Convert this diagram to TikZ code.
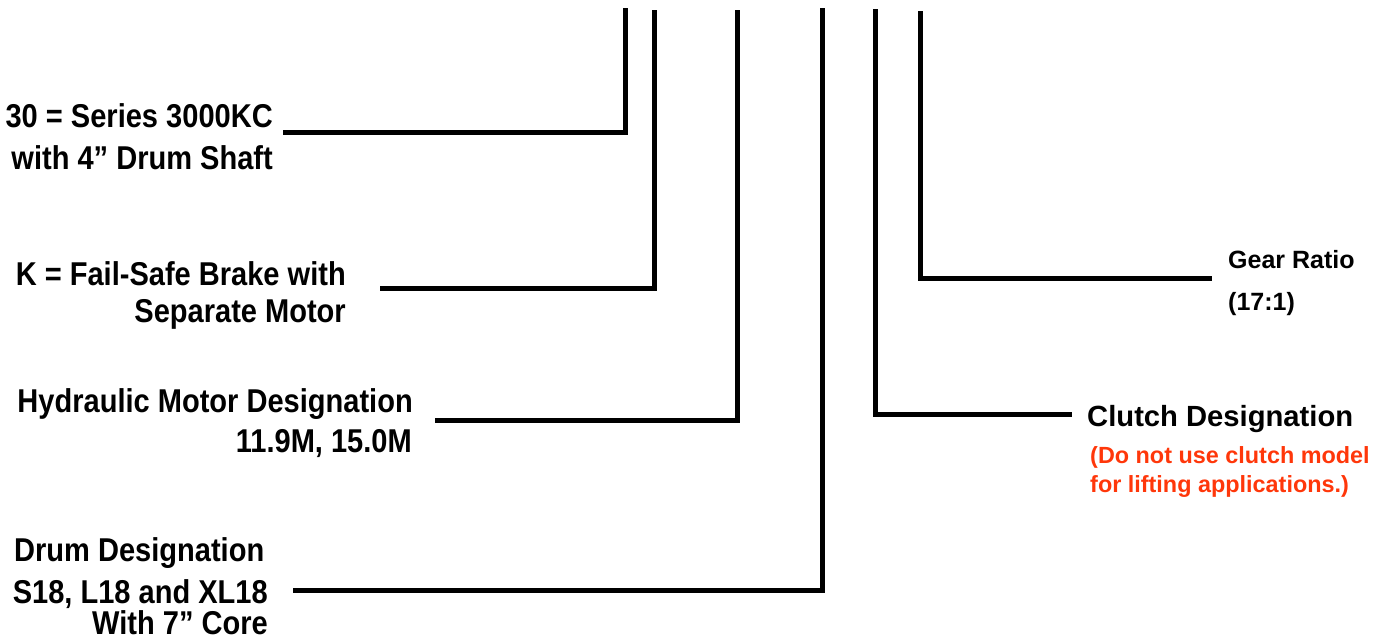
\documentclass[tikz,border=0pt]{standalone}
\usepackage{fontspec}
\setmainfont{Liberation Sans}
\newfontfamily\narrowsans[FakeStretch=0.88]{Liberation Sans}
\definecolor{warnred}{RGB}{255,55,10}
\begin{document}
\begin{tikzpicture}[x=1pt,y=-1pt,
  lead/.style={line width=5pt,line join=miter,line cap=butt},
  ltxt/.style={font=\narrowsans\fontsize{33}{35}\selectfont\bfseries,inner sep=0pt},
  gtxt/.style={font=\fontsize{25}{27}\selectfont\bfseries,inner sep=0pt},
  ctxt/.style={font=\fontsize{29.2}{31}\selectfont\bfseries,inner sep=0pt},
  rtxt/.style={font=\fontsize{23.4}{25}\selectfont\bfseries,text=warnred,inner sep=0pt}]
\useasboundingbox (0,0) rectangle (1378,641);
% labels
\node[ltxt,anchor=base east] (l1a) at (273,127) {30 = Series 3000KC};
\node[ltxt,anchor=base east] (l1b) at (273,169) {with 4” Drum Shaft};
\node[ltxt,anchor=base east] (l2a) at (346,285) {K = Fail-Safe Brake with};
\node[ltxt,anchor=base east] (l2b) at (346,322) {Separate Motor};
\node[ltxt,anchor=base east] (l3a) at (413,412) {Hydraulic Motor Designation};
\node[ltxt,anchor=base east] (l3b) at (412,452) {11.9M, 15.0M};
\node[ltxt,anchor=base west] (l4a) at (14,561) {Drum Designation};
\node[ltxt,anchor=base east] (l4b) at (268,603) {S18, L18 and XL18};
\node[ltxt,anchor=base east,text depth=0pt] (l4c) at (268,634) {With 7” Core};
\node[gtxt,anchor=base west] (r6a) at (1228,268) {Gear Ratio};
\node[gtxt,anchor=base west] (r6b) at (1228,310) {(17:1)};
\node[ctxt,anchor=base west] (r5a) at (1087,426) {Clutch Designation};
\node[rtxt,anchor=base west] (r5b) at (1090,463) {(Do not use clutch model};
\node[rtxt,anchor=base west] (r5c) at (1090,492) {for lifting applications.)};
% line ends
\coordinate (t1) at (625,8);   \coordinate (h1) at (283,132);
\coordinate (t2) at (654,10);  \coordinate (h2) at (380,288);
\coordinate (t3) at (737,10);  \coordinate (h3) at (435,420);
\coordinate (t4) at (822,8);   \coordinate (h4) at (293,590);
\coordinate (t5) at (875,9);   \coordinate (h5) at (1072,414);
\coordinate (t6) at (920,11);  \coordinate (h6) at (1212,278);
\draw[lead] (t1) |- (h1);
\draw[lead] (t2) |- (h2);
\draw[lead] (t3) |- (h3);
\draw[lead] (t4) |- (h4);
\draw[lead] (t5) |- (h5);
\draw[lead] (t6) |- (h6);
\end{tikzpicture}
\end{document}
